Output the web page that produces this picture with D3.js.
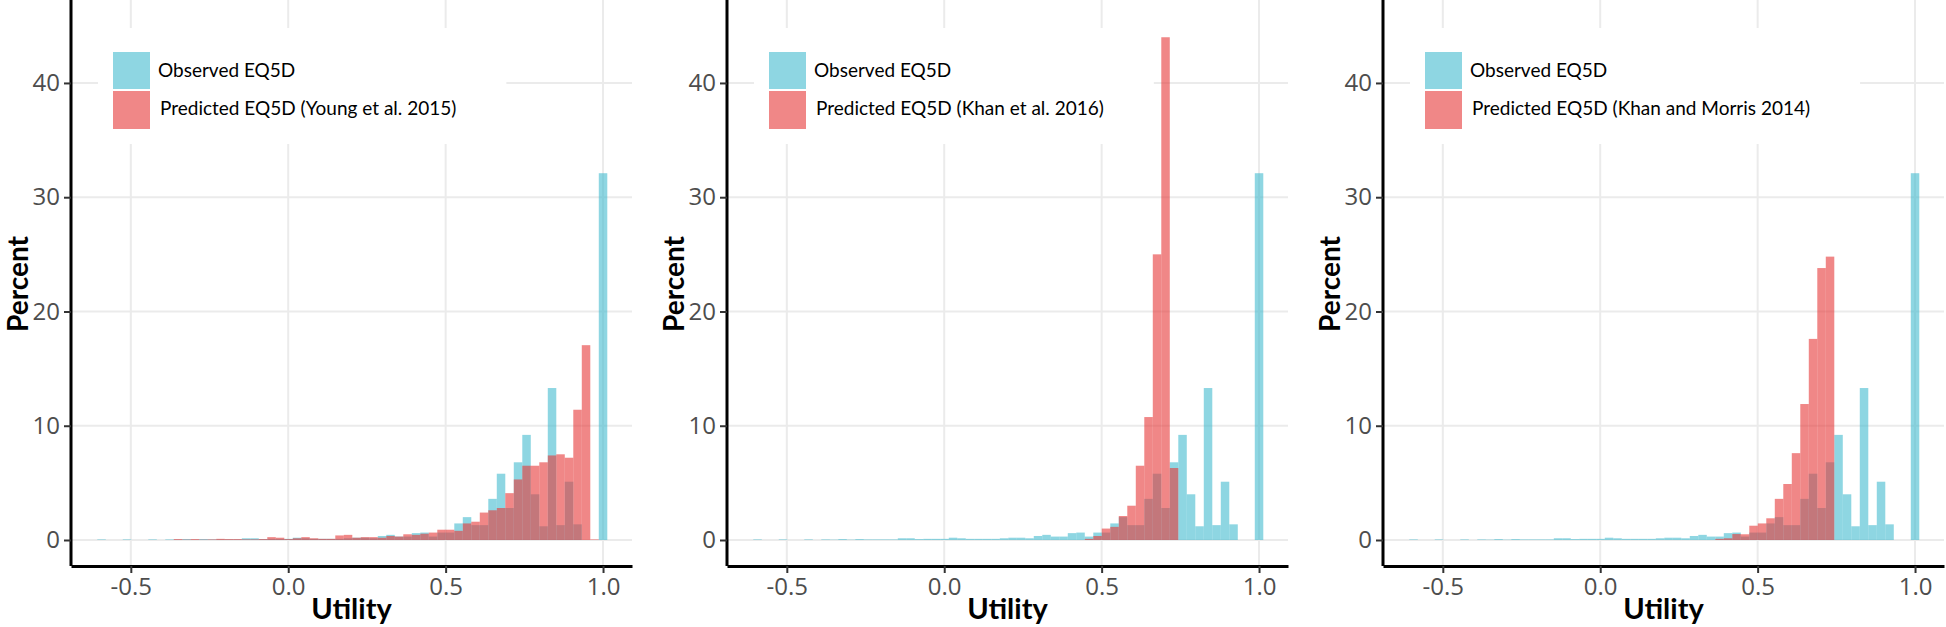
<!doctype html>
<html lang="en">
<head>
  <meta charset="UTF-8">
  <title>Observed vs predicted EQ5D</title>
  <script src="https://cdnjs.cloudflare.com/ajax/libs/d3/7.8.5/d3.min.js"></script>
  <style>
  body { margin: 0; background: #fff; }
  svg { display: block; }
  .tick text { font-family: "Open Sans", sans-serif; font-size: 24px; fill: #4d4d4d; }
  .title { font-family: Lato, sans-serif; font-weight: bold; font-size: 29px; fill: #000; }
  .ytitle { font-size: 28px; }
  .legend text { font-family: Lato, sans-serif; font-size: 19px; fill: #000; }
  </style>
</head>
<body>
<script>

// bin centres of the histogram (utility), bin width 0.027
var binWidth = 0.027;
var binCenters = [
  -0.593, -0.566, -0.539, -0.512, -0.485, -0.458, -0.431, -0.404, -0.377, -0.350,
  -0.323, -0.296, -0.269, -0.242, -0.215, -0.188, -0.161, -0.134, -0.107, -0.080,
  -0.053, -0.026, 0.001, 0.028, 0.055, 0.082, 0.109, 0.136, 0.163, 0.190,
  0.217, 0.244, 0.271, 0.298, 0.325, 0.352, 0.379, 0.406, 0.433, 0.460,
  0.487, 0.514, 0.541, 0.568, 0.595, 0.622, 0.649, 0.676, 0.703, 0.730,
  0.757, 0.784, 0.811, 0.838, 0.865, 0.892, 0.919, 0.946, 0.973, 1.000
];

// percent per bin
var observed = [
  0.05, 0, 0, 0.05, 0, 0, 0.05, 0, 0.05, 0.03,
  0.08, 0.03, 0.08, 0.05, 0.05, 0.05, 0.05, 0.15, 0.15, 0.08,
  0.1, 0.1, 0.1, 0.2, 0.15, 0.1, 0.1, 0.1, 0.1, 0.15,
  0.2, 0.2, 0.15, 0.35, 0.45, 0.3, 0.3, 0.6, 0.65, 0.3,
  0.65, 0.65, 1.45, 2.0, 1.3, 1.3, 3.6, 5.8, 2.8, 6.8,
  9.2, 4.0, 1.2, 13.3, 1.3, 5.1, 1.37, 0, 0, 32.1
];
var predYoung = [
  0, 0, 0, 0, 0, 0, 0, 0, 0, 0.08,
  0.03, 0.08, 0.03, 0.05, 0.1, 0.08, 0.08, 0.05, 0.05, 0.08,
  0.25, 0.2, 0.08, 0.15, 0.25, 0.15, 0.1, 0.1, 0.4, 0.45,
  0.2, 0.25, 0.25, 0.2, 0.35, 0.3, 0.5, 0.45, 0.55, 0.65,
  0.9, 0.9, 0.8, 1.45, 1.6, 2.4, 2.6, 2.8, 4.1, 5.3,
  6.5, 6.5, 6.8, 7.4, 7.5, 7.2, 11.4, 17.05, 0.05, 0
];
var predKhan2016 = [
  0, 0, 0, 0, 0, 0, 0, 0, 0, 0,
  0, 0, 0, 0, 0, 0, 0, 0, 0, 0,
  0, 0, 0, 0, 0, 0, 0, 0, 0, 0,
  0, 0, 0, 0, 0, 0, 0, 0, 0, 0.1,
  0.35, 1.0, 1.15, 2.1, 3.0, 6.5, 10.76, 25.0, 44.0, 6.3,
  0, 0, 0, 0, 0, 0, 0, 0, 0, 0
];
var predKhanMorris = [
  0, 0, 0, 0, 0, 0, 0, 0, 0, 0,
  0, 0, 0, 0, 0, 0, 0, 0, 0, 0,
  0, 0, 0, 0, 0, 0, 0, 0, 0, 0,
  0, 0, 0, 0, 0, 0, 0.1, 0.15, 0.52, 0.5,
  1.25, 1.45, 1.9, 3.6, 4.9, 7.6, 11.9, 17.6, 23.8, 24.8,
  0, 0, 0, 0, 0, 0, 0, 0, 0, 0
];

var predLabels = [
  "Predicted EQ5D (Young et al. 2015)",
  "Predicted EQ5D (Khan et al. 2016)",
  "Predicted EQ5D (Khan and Morris 2014)"
];
var obsLabel = "Observed EQ5D";
var xTicks = [-0.5, 0.0, 0.5, 1.0];
var yTicks = [0, 10, 20, 30, 40];

var predSeries = [predYoung, predKhan2016, predKhanMorris];

var w = 1946;
var h = 627;
var panelW = 561;
var panelStep = 656;
var left0 = 71;
var axisY = 566;

var obsColor = 'rgba(67,187,207,0.6)';
var predColor = 'rgba(230,55,55,0.6)';

var svg = d3.select('body')
  .append('svg')
  .attr('width', w)
  .attr('height', h);

var y = d3.scaleLinear()
  .domain([-2.276, 47.26])
  .range([axisY, 0]);

predSeries.forEach(function(pred, p) {
  var x0 = left0 + p * panelStep;
  var x = d3.scaleLinear()
    .domain([-0.69, 1.092])
    .range([x0, x0 + panelW]);

  var g = svg.append('g');

  // grid
  g.selectAll('line.hgrid')
    .data(yTicks)
    .enter()
    .append('line')
    .attr('x1', x0).attr('x2', x0 + panelW)
    .attr('y1', function(d) { return y(d); })
    .attr('y2', function(d) { return y(d); })
    .attr('stroke', '#ebebeb')
    .attr('stroke-width', 2);

  g.selectAll('line.vgrid')
    .data(xTicks)
    .enter()
    .append('line')
    .attr('x1', function(d) { return x(d); })
    .attr('x2', function(d) { return x(d); })
    .attr('y1', 0).attr('y2', axisY)
    .attr('stroke', '#ebebeb')
    .attr('stroke-width', 2);

  // bars: observed first, predicted drawn on top
  function drawBars(values, color) {
    var data = binCenters.map(function(c, i) { return [c, values[i]]; })
      .filter(function(d) { return d[1] > 0; });
    g.append('g')
      .selectAll('rect')
      .data(data)
      .enter()
      .append('rect')
      .attr('x', function(d) { return x(d[0] - binWidth / 2); })
      .attr('width', function(d) { return x(d[0] + binWidth / 2) - x(d[0] - binWidth / 2); })
      .attr('y', function(d) { return y(d[1]); })
      .attr('height', function(d) { return y(0) - y(d[1]); })
      .attr('fill', color);
  }
  drawBars(observed, obsColor);
  drawBars(pred, predColor);

  // legend
  var lg = g.append('g').attr('class', 'legend');
  var bg = lg.append('rect')
    .attr('x', x0 + 27).attr('y', 28)
    .attr('height', 116)
    .attr('fill', '#fff');
  lg.append('rect')
    .attr('x', x0 + 42).attr('y', 52)
    .attr('width', 37).attr('height', 37)
    .attr('fill', obsColor);
  lg.append('rect')
    .attr('x', x0 + 42).attr('y', 91)
    .attr('width', 37).attr('height', 38)
    .attr('fill', predColor);
  lg.append('text')
    .attr('x', x0 + 87).attr('y', 70)
    .attr('dy', '0.35em')
    .text(obsLabel);
  var t2 = lg.append('text')
    .attr('x', x0 + 89).attr('y', 108)
    .attr('dy', '0.35em')
    .text(predLabels[p]);
  bg.attr('width', x0 + 89 + t2.node().getComputedTextLength() + 50 - (x0 + 27));

  // axes
  var xAxis = g.append('g')
    .attr('transform', 'translate(0,' + axisY + ')')
    .call(d3.axisBottom(x)
      .tickValues(xTicks)
      .tickSize(7)
      .tickSizeOuter(0)
      .tickPadding(5)
      .tickFormat(function(d) { return d.toFixed(1); }));

  var yAxis = g.append('g')
    .attr('transform', 'translate(' + x0 + ',0)')
    .call(d3.axisLeft(y)
      .tickValues(yTicks)
      .tickSize(7)
      .tickSizeOuter(0)
      .tickPadding(4));

  [xAxis, yAxis].forEach(function(a) {
    a.select('.domain').attr('stroke', '#000').attr('stroke-width', 3);
    a.selectAll('.tick line').attr('stroke', '#333').attr('stroke-width', 2);
  });
  yAxis.select('.domain').attr('d', 'M0,0V' + axisY);

  // axis titles
  g.append('text')
    .attr('class', 'title')
    .attr('x', x0 + panelW / 2)
    .attr('y', 619)
    .attr('text-anchor', 'middle')
    .text('Utility');

  g.append('text')
    .attr('class', 'title ytitle')
    .attr('transform', 'translate(' + (x0 - 43) + ',284) rotate(-90)')
    .attr('text-anchor', 'middle')
    .text('Percent');
});

</script>
</body>
</html>
